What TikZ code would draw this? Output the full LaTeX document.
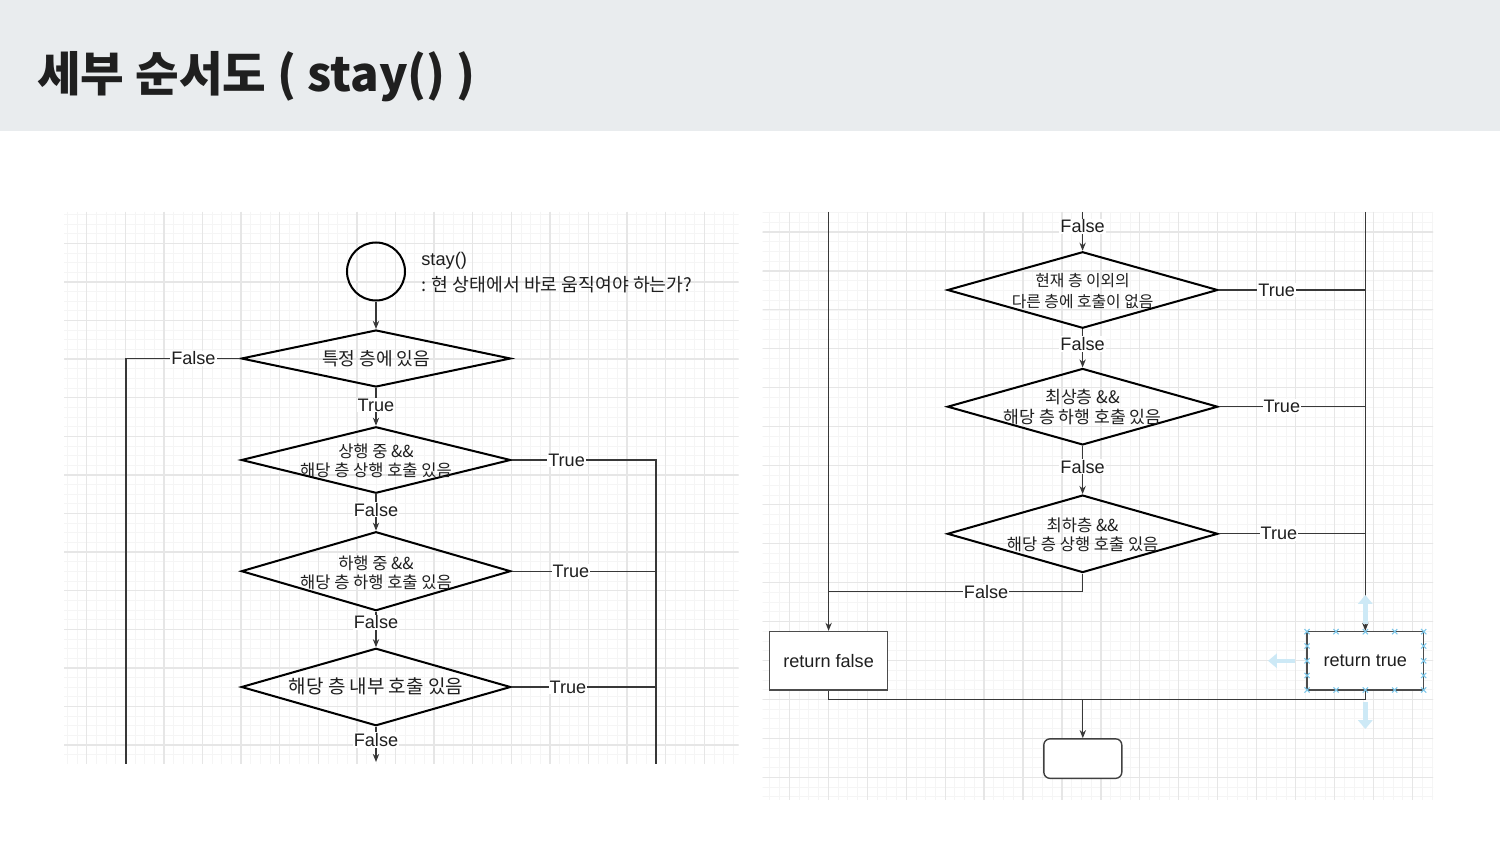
\documentclass[tikz,border=0pt]{standalone}
\usepackage{fontspec}
\setmainfont{Liberation Sans}
\newfontfamily\kr{Noto Sans CJK KR}
\usetikzlibrary{shapes.geometric,arrows.meta}
\definecolor{hdr}{HTML}{E9ECEE}
\definecolor{gmin}{HTML}{F5F5F5}
\definecolor{gmaj}{HTML}{E6E6E6}
\definecolor{cline}{HTML}{383838}
\definecolor{selblue}{HTML}{7CC7EA}
\definecolor{selarrow}{HTML}{CDE9F6}
\tikzset{
  gminor/.style={draw=gmin,line width=0.45pt},
  gmajor/.style={draw=gmaj,line width=0.7pt},
  dia/.style={diamond,draw=black,line width=1.15pt,inner sep=0pt,minimum width=5.39cm},
  dtext/.style={align=center,inner sep=0pt,text=black!88},
  startc/.style={circle,draw=black,line width=1.15pt,minimum size=1.16cm,inner sep=0pt},
  conn/.style={draw=cline,line width=0.65pt},
  arr/.style={-{Stealth[length=4.6pt,width=3.6pt]}},
  lbl/.style={fill=white,inner sep=0.6pt,font=\fontsize{10.3}{12}\selectfont,text=black!88},
  retbox/.style={rectangle,draw=black!70,line width=0.8pt,minimum height=1.17cm,fill=white,font=\fontsize{10.3}{12}\selectfont,text=black!88},
  endbox/.style={rectangle,rounded corners=3.5pt,draw=black!75,line width=0.8pt,minimum width=1.56cm,minimum height=0.79cm,fill=white},
  selx/.style={draw=selblue,line width=0.6pt},
  hoverarr/.style={draw=selarrow,line width=2.6pt,-{Triangle[length=5pt,width=8pt]}}
}
\begin{document}
\begin{tikzpicture}[x=0.02cm,y=-0.02cm]
\useasboundingbox (0,0) rectangle (1500,844);
\fill[white] (0,0) rectangle (1500,844);
\fill[hdr] (0,0) rectangle (1500,131);
\node[anchor=base west,inner sep=0pt,font=\kr\bfseries\fontsize{27}{32}\selectfont,text=black!88] (title) at (37,92) {세부 순서도 ( stay() )};

% ---------- left panel grid ----------
\begin{scope}
\clip (64,212) rectangle (738.5,763.3);
\fill[white] (64,212) rectangle (738.5,763.3);
\foreach \k in {0,...,72} {\draw[gminor] ({57.75+\k*9.65},212) -- ({57.75+\k*9.65},764);}
\foreach \k in {0,...,58} {\draw[gminor] (64,{204.7+\k*9.65}) -- (739,{204.7+\k*9.65});}
\foreach \k in {-1,...,17} {\draw[gmajor] ({86.7+\k*38.6},212) -- ({86.7+\k*38.6},764);}
\foreach \k in {-1,...,14} {\draw[gmajor] (64,{243.3+\k*38.6}) -- (739,{243.3+\k*38.6});}
\end{scope}

% ---------- right panel grid ----------
\begin{scope}
\clip (762.7,212) rectangle (1433,799);
\fill[white] (762.7,212) rectangle (1433,799);
\foreach \k in {0,...,70} {\draw[gminor] ({760.1+\k*9.7375},212) -- ({760.1+\k*9.7375},800);}
\foreach \k in {0,...,62} {\draw[gminor] (762,{202.8+\k*9.7375}) -- (1434,{202.8+\k*9.7375});}
\foreach \k in {-1,...,17} {\draw[gmajor] ({789.3+\k*38.95},212) -- ({789.3+\k*38.95},800);}
\foreach \k in {-1,...,15} {\draw[gmajor] (762,{231.95+\k*38.95}) -- (1434,{231.95+\k*38.95});}
\end{scope}

% ---------- left flowchart ----------
\node[startc] (s) at (376,271.5) {};
\node[anchor=west,inner sep=0pt,font=\fontsize{10.4}{12}\selectfont,text=black!88] (sn1) at (421,261) {stay()};
\node[anchor=west,inner sep=0pt,font=\kr\fontsize{10.4}{12}\selectfont,text=black!88] (sn2) at (421,285) {: 현 상태에서 바로 움직여야 하는가?};

\node[dia,minimum height=1.14cm] (d1) at (376,358.5) {};
\node[dtext,font=\kr\fontsize{10.3}{12}\selectfont] (t1) at (376,358.5) {특정 층에 있음};
\node[dia,minimum height=1.33cm] (d2) at (376,460) {};
\node[dtext,font=\kr\fontsize{9.4}{10.6}\selectfont] (t2) at (376,461) {상행 중 \&\&\\해당 층 상행 호출 있음};
\node[dia,minimum height=1.58cm] (d3) at (376,571.2) {};
\node[dtext,font=\kr\fontsize{9.4}{10.6}\selectfont] (t3) at (376,572.5) {하행 중 \&\&\\해당 층 하행 호출 있음};
\node[dia,minimum height=1.55cm] (d4) at (376,687) {};
\node[dtext,font=\kr\fontsize{10.8}{12}\selectfont] (t4) at (376,686.5) {해당 층 내부 호출 있음};

\coordinate (lfc) at (126,358.5);
\coordinate (lfe) at (126,764);
\coordinate (rtc) at (656,460);
\coordinate (rte) at (656,764);
\coordinate (rt3) at (656,571.2);
\coordinate (rt4) at (656,687);
\coordinate (lbe) at (376,762);

\draw[conn,arr] (s) -- (d1.north);
\draw[conn] (d1.west) -- node[lbl,pos=0.41]{False} (lfc) -- (lfe);
\draw[conn,arr] (d1.south) -- node[lbl,pos=0.45]{True} (d2.north);
\draw[conn] (d2.east) -- node[lbl,pos=0.38]{True} (rtc) -- (rte);
\draw[conn,arr] (d2.south) -- node[lbl,pos=0.42]{False} (d3.north);
\draw[conn] (d3.east) -- node[lbl,pos=0.41]{True} (rt3);
\draw[conn,arr] (d3.south) -- node[lbl,pos=0.3]{False} (d4.north);
\draw[conn] (d4.east) -- node[lbl,pos=0.39]{True} (rt4);
\draw[conn,arr] (d4.south) -- node[lbl,pos=0.38]{False} (lbe);

% ---------- right flowchart ----------
\node[dia,minimum width=5.41cm,minimum height=1.53cm] (d5) at (1082.6,290) {};
\node[dtext,font=\kr\fontsize{9}{12.2}\selectfont] (t5) at (1082.6,291) {현재 층 이외의\\다른 층에 호출이 없음};
\node[dia,minimum width=5.41cm,minimum height=1.53cm] (d6) at (1082.6,406.7) {};
\node[dtext,font=\kr\fontsize{9.8}{11.6}\selectfont] (t6) at (1082.6,407) {최상층 \&\&\\해당 층 하행 호출 있음};
\node[dia,minimum width=5.41cm,minimum height=1.55cm] (d7) at (1082.6,533.8) {};
\node[dtext,font=\kr\fontsize{9.4}{10.6}\selectfont] (t7) at (1082.6,535) {최하층 \&\&\\해당 층 상행 호출 있음};

\node[retbox,minimum width=2.36cm] (rf) at (828.6,660.8) {return false};
\node[retbox,minimum width=2.33cm] (rt) at (1365.3,660.8) {return true};
\node[endbox] (eb) at (1082.8,758.6) {};

\coordinate (rtop) at (1082.6,212);
\coordinate (rlt) at (828.6,212);
\coordinate (rrt) at (1365.3,212);
\coordinate (r5) at (1365.3,290);
\coordinate (r6) at (1365.3,406.7);
\coordinate (r7) at (1365.3,533.8);
\coordinate (f7a) at (1082.6,591.7);
\coordinate (f7b) at (828.6,591.7);
\coordinate (bl) at (828.6,699.3);
\coordinate (bm) at (1082.8,699.3);
\coordinate (br) at (1365.3,699.3);

\draw[conn,arr] (rlt) -- (rf.north);
\draw[conn,arr] (rrt) -- (rt.north);
\draw[conn,arr] (rtop) -- node[lbl,pos=0.37]{False} (d5.north);
\draw[conn] (d5.east) -- node[lbl,pos=0.395]{True} (r5);
\draw[conn,arr] (d5.south) -- node[lbl,pos=0.39]{False} (d6.north);
\draw[conn] (d6.east) -- node[lbl,pos=0.43]{True} (r6);
\draw[conn,arr] (d6.south) -- node[lbl,pos=0.43]{False} (d7.north);
\draw[conn] (d7.east) -- node[lbl,pos=0.41]{True} (r7);
\draw[conn] (d7.south) -- (f7a) -- node[lbl,pos=0.38]{False} (f7b);
\draw[conn] (rf.south) -- (bl) -- (br) -- (rt.south);
\draw[conn,arr] (bm) -- (eb.north);

% selection handles on "return true"
\foreach \x in {1307,1336,1365.3,1394.7,1423.7} {
  \foreach \y in {631.7,690} {
    \draw[selx] (\x-2.6,\y-2.6) -- (\x+2.6,\y+2.6) (\x-2.6,\y+2.6) -- (\x+2.6,\y-2.6);
  }
}
\foreach \y in {646,660.8,675.5} {
  \foreach \x in {1307,1423.7} {
    \draw[selx] (\x-2.6,\y-2.6) -- (\x+2.6,\y+2.6) (\x-2.6,\y+2.6) -- (\x+2.6,\y-2.6);
  }
}
\draw[hoverarr] (1365.3,624) -- (1365.3,595);
\draw[hoverarr] (1295,660.8) -- (1268,660.8);
\draw[hoverarr] (1365.3,702) -- (1365.3,729);
\end{tikzpicture}
\end{document}
